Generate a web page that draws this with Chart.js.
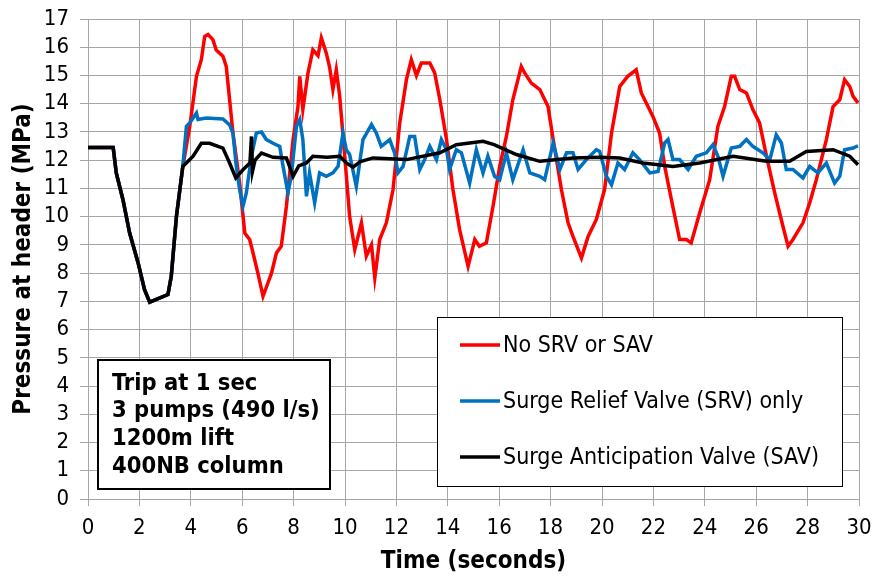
<!DOCTYPE html>
<html><head><meta charset="utf-8">
<script src="https://cdn.jsdelivr.net/npm/chart.js@4"></script>
<style>html,body{margin:0;padding:0;background:#fff}canvas{display:block}</style>
</head><body>
<canvas id="c" width="874" height="576"></canvas>
<script>
// ---- DATA (time in s, pressure in MPa) ----
const seriesLabels = ["No SRV or SAV", "Surge Relief Valve (SRV) only", "Surge Anticipation Valve (SAV)"];
const noteLines = ["Trip at 1 sec", "3 pumps (490 l/s)", "1200m lift", "400NB column"];
const xTicks = [0,2,4,6,8,10,12,14,16,18,20,22,24,26,28,30];
const yTicks = [0,1,2,3,4,5,6,7,8,9,10,11,12,13,14,15,16,17];

const redT = [0,0.98,1.1,1.36,1.62,1.95,2.2,2.4,3.11,3.24,3.44,3.69,3.96,4.22,4.41,4.54,4.67,4.86,4.99,5.25,5.38,5.51,5.64,5.9,6.1,6.29,6.42,6.61,6.81,6.94,7.14,7.33,7.52,7.72,7.98,8.17,8.24,8.36,8.56,8.75,8.95,9.08,9.27,9.4,9.53,9.66,9.79,9.99,10.18,10.38,10.64,10.83,11.03,11.16,11.35,11.61,11.87,12.13,12.39,12.58,12.78,12.97,13.3,13.49,13.69,13.95,14.2,14.46,14.79,15.05,15.23,15.5,15.76,16.02,16.28,16.53,16.86,16.99,17.25,17.58,17.9,18.1,18.42,18.68,18.87,19.2,19.46,19.78,20.1,20.37,20.69,21.0,21.33,21.53,21.79,21.98,22.24,22.44,22.7,23.02,23.28,23.47,23.8,24.19,24.51,24.77,25.03,25.16,25.36,25.62,25.87,26.13,26.4,26.72,27.04,27.24,27.43,27.82,28.08,28.34,28.73,28.99,29.25,29.44,29.64,29.77,29.96];
const redP = [12.45,12.45,11.55,10.6,9.42,8.36,7.41,6.97,7.24,7.89,10.0,11.78,13.2,14.97,15.56,16.38,16.45,16.27,15.9,15.68,15.32,14.14,12.96,11.19,9.42,9.19,8.72,8.0,7.18,7.5,8.0,8.71,8.95,10.37,12.73,13.9,14.97,13.8,15.09,15.91,15.7,16.33,15.8,15.3,14.5,15.2,14.3,12.14,10.01,8.83,9.78,8.6,9.0,7.83,9.19,9.78,10.96,13.32,14.85,15.56,15.0,15.44,15.44,15.09,14.14,12.73,10.96,9.54,8.24,9.19,8.95,9.07,10.37,11.78,12.84,14.14,15.32,15.09,14.73,14.5,13.9,12.73,10.96,9.78,9.3,8.54,9.3,9.9,10.96,12.96,14.61,14.97,15.2,14.38,13.9,13.55,12.96,11.78,10.6,9.19,9.19,9.07,10.13,11.31,13.2,13.9,14.97,14.97,14.5,14.38,13.79,13.32,12.14,10.84,9.66,8.95,9.19,9.78,10.48,11.31,12.73,13.9,14.14,14.85,14.61,14.26,14.03];

const blueT = [0,0.98,1.1,1.36,1.62,1.95,2.2,2.4,3.11,3.24,3.44,3.69,3.83,3.96,4.22,4.28,4.6,5.25,5.51,5.64,5.77,5.9,6.03,6.16,6.36,6.55,6.75,6.94,7.2,7.46,7.59,7.78,7.91,8.11,8.24,8.36,8.5,8.62,8.82,9.01,9.27,9.53,9.73,9.92,10.05,10.18,10.44,10.7,11.03,11.22,11.41,11.74,11.93,12.06,12.26,12.52,12.71,12.91,13.1,13.3,13.56,13.75,13.95,14.07,14.33,14.53,14.85,15.11,15.37,15.56,15.82,16.02,16.28,16.53,16.93,17.19,17.58,17.77,18.1,18.36,18.62,18.87,19.07,19.39,19.78,19.91,20.17,20.37,20.62,20.88,21.2,21.46,21.86,22.18,22.44,22.57,22.76,23.02,23.35,23.67,24.06,24.32,24.51,24.71,25.03,25.36,25.62,25.87,26.26,26.53,26.78,26.98,27.17,27.43,27.82,28.08,28.4,28.73,29.05,29.25,29.44,29.77,29.96];
const blueP = [12.45,12.45,11.55,10.6,9.42,8.36,7.41,6.97,7.24,7.89,10.0,11.8,13.2,13.32,13.67,13.44,13.49,13.46,13.25,12.96,11.78,10.96,10.37,10.84,12.14,12.96,13.0,12.73,12.6,12.49,11.78,10.84,11.43,13.2,13.44,12.73,10.72,11.55,10.49,11.55,11.43,11.55,11.78,12.96,12.37,12.2,11.07,12.73,13.26,12.96,12.49,12.73,12.26,11.55,11.78,12.84,12.84,11.67,12.02,12.49,12.02,12.73,12.37,11.67,12.37,12.26,11.19,12.37,11.55,12.14,11.43,11.31,12.26,11.31,12.37,11.55,11.43,11.31,12.61,11.67,12.26,12.26,11.67,12.02,12.37,12.31,11.43,11.13,11.9,11.67,12.26,12.02,11.55,11.6,12.61,12.73,12.02,12.02,11.67,12.14,12.26,12.55,12.14,11.43,12.43,12.49,12.73,12.49,12.26,12.02,12.9,12.61,11.67,11.67,11.37,11.78,11.55,11.9,11.19,11.43,12.37,12.43,12.51];

const blackT = [0,0.98,1.1,1.36,1.62,1.95,2.2,2.4,3.11,3.24,3.44,3.69,4.09,4.41,4.73,5.25,5.51,5.75,6.03,6.3,6.36,6.4,6.5,6.75,7.2,7.72,7.98,8.2,8.5,8.75,9.3,9.8,10.05,10.31,10.6,11.09,12.39,13.69,14.33,15.37,15.8,16.67,17.58,18.87,19.91,20.69,21.6,22.76,23.8,25.1,26.4,27.3,27.95,28.99,29.64,29.96];
const blackP = [12.45,12.45,11.55,10.6,9.42,8.36,7.41,6.97,7.24,7.89,10.0,11.78,12.14,12.6,12.6,12.43,11.9,11.37,11.66,11.9,12.84,11.6,12.0,12.25,12.1,12.08,11.43,11.8,11.9,12.14,12.1,12.14,11.9,11.75,11.95,12.08,12.02,12.26,12.55,12.67,12.55,12.2,11.96,12.08,12.1,12.08,11.9,11.78,11.9,12.14,11.96,11.96,12.31,12.37,12.14,11.84];

const seriesColors = ["#ff0000", "#0070c0", "#000000"];

// ---- build ----
const pts = (t, p) => t.map((v, i) => ({x: v, y: p[i]}));
const FONT = "'DejaVu Sans Condensed', 'DejaVu Sans', sans-serif";
const GRID = "#a6a6a6";

const overlay = {
  id: 'overlay',
  afterDraw(chart) {
    const ctx = chart.ctx;
    ctx.save();
    // legend box
    ctx.fillStyle = '#fff';
    ctx.fillRect(437, 317, 405, 169);
    ctx.strokeStyle = '#000'; ctx.lineWidth = 1;
    ctx.strokeRect(437.5, 317.5, 405, 169);
    const ly = [345, 401, 457];
    ctx.font = "23px " + FONT;
    ctx.textBaseline = 'middle'; ctx.textAlign = 'left';
    chart.data.datasets.forEach((ds, i) => {
      ctx.strokeStyle = ds.borderColor; ctx.lineWidth = 3.5;
      ctx.beginPath(); ctx.moveTo(460, ly[i]); ctx.lineTo(500, ly[i]); ctx.stroke();
      ctx.fillStyle = '#000';
      ctx.fillText(ds.label, 503, ly[i] + 1);
    });
    // note box
    ctx.fillStyle = '#fff';
    ctx.fillRect(97, 359, 234, 131);
    ctx.strokeStyle = '#000'; ctx.lineWidth = 2;
    ctx.strokeRect(98, 360, 232, 129);
    ctx.fillStyle = '#000';
    ctx.font = "bold 23.5px " + FONT;
    const ny = [383, 410, 438, 466];
    noteLines.forEach((s, i) => ctx.fillText(s, 112, ny[i] + 1));
    ctx.restore();
  }
};

new Chart(document.getElementById('c'), {
  type: 'line',
  data: {
    datasets: [
      {label: seriesLabels[0], data: pts(redT, redP), borderColor: seriesColors[0], order: 2},
      {label: seriesLabels[1], data: pts(blueT, blueP), borderColor: seriesColors[1], order: 1},
      {label: seriesLabels[2], data: pts(blackT, blackP), borderColor: seriesColors[2], order: 0}
    ].map(d => Object.assign(d, {borderWidth: 3.5, pointRadius: 0, tension: 0, fill: false, backgroundColor: d.borderColor}))
  },
  options: {
    responsive: false, animation: false,
    layout: {padding: {top: 19, right: 15, left: 0, bottom: 0}},
    plugins: {legend: {display: false}, tooltip: {enabled: false}},
    scales: {
      x: {
        type: 'linear', min: 0, max: 30,
        afterBuildTicks: s => { s.ticks = xTicks.map(v => ({value: v})); },
        afterFit: s => { s.height = 77; s.paddingLeft = 0; s.paddingRight = 0; },
        grid: {color: GRID, tickLength: 7, drawTicks: true},
        border: {color: GRID},
        ticks: {color: '#000', font: {family: FONT, size: 22}, padding: 9, maxRotation: 0, autoSkip: false},
        title: {display: true, text: 'Time (seconds)', color: '#000', font: {family: FONT, size: 24, weight: 'bold'}, padding: {bottom: 0}}
      },
      y: {
        type: 'linear', min: 0, max: 17,
        afterBuildTicks: s => { s.ticks = yTicks.map(v => ({value: v})); },
        afterFit: s => { s.width = 88; s.paddingTop = 0; s.paddingBottom = 0; },
        grid: {color: GRID, tickLength: 8, drawTicks: true},
        border: {color: GRID},
        ticks: {color: '#000', font: {family: FONT, size: 22}, padding: 11, autoSkip: false},
        title: {display: true, text: 'Pressure at header (MPa)', color: '#000', font: {family: FONT, size: 24, weight: 'bold'}, padding: {top: 9}}
      }
    }
  },
  plugins: [overlay]
});
</script>
</body></html>
